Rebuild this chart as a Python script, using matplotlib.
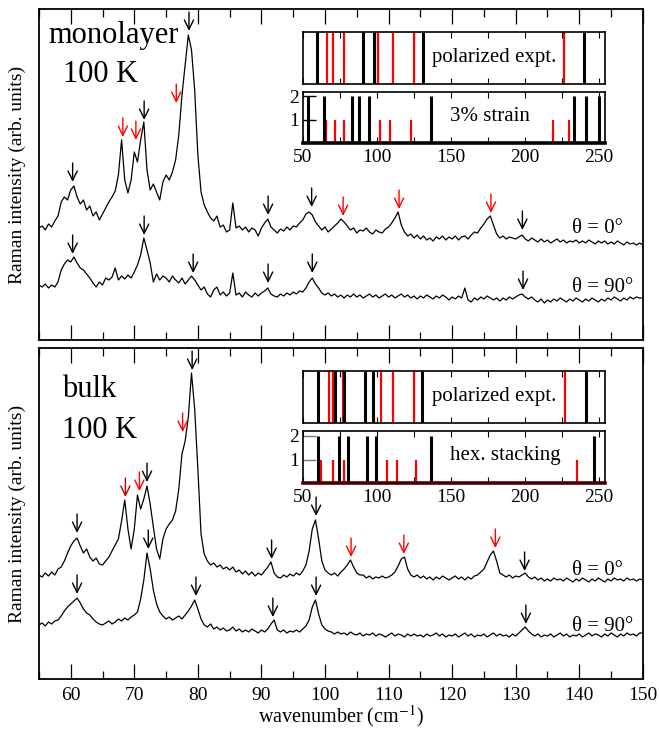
import matplotlib
matplotlib.use("Agg")
import matplotlib.pyplot as plt
from matplotlib.ticker import MultipleLocator

plt.rcParams['font.family'] = ['Liberation Serif', 'DejaVu Serif']
plt.rcParams['mathtext.fontset'] = 'stix'

# wavenumber grid of the spectra (cm^-1)
wavenumber = [
    55.0, 55.5, 56.0, 56.5, 57.0, 57.5, 58.0, 58.5, 59.0, 59.5, 60.0, 60.5, 61.0, 61.5, 62.0, 62.5,
    63.0, 63.5, 64.0, 64.5, 65.0, 65.5, 66.0, 66.5, 67.0, 67.5, 68.0, 68.5, 69.0, 69.5, 70.0, 70.5,
    71.0, 71.5, 72.0, 72.5, 73.0, 73.5, 74.0, 74.5, 75.0, 75.5, 76.0, 76.5, 77.0, 77.5, 78.0, 78.5,
    79.0, 79.5, 80.0, 80.5, 81.0, 81.5, 82.0, 82.5, 83.0, 83.5, 84.0, 84.5, 85.0, 85.5, 86.0, 86.5,
    87.0, 87.5, 88.0, 88.5, 89.0, 89.5, 90.0, 90.5, 91.0, 91.5, 92.0, 92.5, 93.0, 93.5, 94.0, 94.5,
    95.0, 95.5, 96.0, 96.5, 97.0, 97.5, 98.0, 98.5, 99.0, 99.5, 100.0, 100.5, 101.0, 101.5, 102.0, 102.5,
    103.0, 103.5, 104.0, 104.5, 105.0, 105.5, 106.0, 106.5, 107.0, 107.5, 108.0, 108.5, 109.0, 109.5, 110.0, 110.5,
    111.0, 111.5, 112.0, 112.5, 113.0, 113.5, 114.0, 114.5, 115.0, 115.5, 116.0, 116.5, 117.0, 117.5, 118.0, 118.5,
    119.0, 119.5, 120.0, 120.5, 121.0, 121.5, 122.0, 122.5, 123.0, 123.5, 124.0, 124.5, 125.0, 125.5, 126.0, 126.5,
    127.0, 127.5, 128.0, 128.5, 129.0, 129.5, 130.0, 130.5, 131.0, 131.5, 132.0, 132.5, 133.0, 133.5, 134.0, 134.5,
    135.0, 135.5, 136.0, 136.5, 137.0, 137.5, 138.0, 138.5, 139.0, 139.5, 140.0, 140.5, 141.0, 141.5, 142.0, 142.5,
    143.0, 143.5, 144.0, 144.5, 145.0, 145.5, 146.0, 146.5, 147.0, 147.5, 148.0, 148.5, 149.0, 149.5, 150.0,
]

# monolayer, 100 K (arb. units, offset traces)
mono_0 = [
    112, 114, 110, 116, 113, 119, 124, 138, 143, 140, 150, 154, 143, 136, 140, 130,
    134, 124, 128, 120, 126, 132, 138, 143, 149, 165, 200, 160, 147, 160, 188, 178,
    200, 218, 170, 150, 156, 148, 140, 158, 165, 160, 168, 180, 205, 245, 275, 305,
    290, 250, 185, 148, 135, 128, 122, 119, 124, 113, 115, 108, 110, 137, 112, 114,
    110, 113, 108, 112, 110, 104, 112, 117, 121, 113, 110, 107, 111, 109, 113, 110,
    114, 113, 117, 120, 126, 128, 125, 118, 114, 110, 113, 108, 111, 114, 117, 121,
    118, 114, 110, 112, 107, 110, 109, 112, 108, 106, 110, 108, 107, 111, 113, 117,
    122, 128, 115, 108, 104, 106, 102, 105, 101, 104, 100, 102, 99, 103, 101, 104,
    100, 103, 101, 104, 100, 103, 104, 101, 105, 108, 107, 112, 116, 121, 124, 115,
    106, 102, 104, 101, 103, 102, 101, 103, 105, 101, 99, 102, 100, 98, 101, 98,
    100, 97, 99, 101, 98, 100, 97, 99, 98, 100, 97, 99, 97, 100, 98, 96,
    99, 97, 99, 96, 98, 96, 99, 97, 95, 98, 96, 97, 95, 97, 95,
]
mono_90 = [
    55, 53, 56, 52, 55, 53, 58, 70, 76, 80, 78, 83, 77, 72, 70, 66,
    62, 57, 53, 58, 55, 62, 60, 63, 72, 60, 64, 61, 65, 62, 68, 75,
    85, 102, 90, 77, 58, 66, 60, 64, 62, 58, 64, 60, 57, 62, 56, 60,
    64, 60, 55, 50, 53, 46, 43, 50, 53, 45, 48, 44, 47, 67, 45, 47,
    43, 48, 45, 43, 47, 44, 47, 49, 52, 46, 44, 43, 46, 44, 47, 45,
    48, 46, 49, 48, 52, 58, 62, 56, 52, 47, 45, 47, 44, 46, 43, 45,
    42, 45, 43, 46, 43, 45, 42, 44, 46, 43, 45, 42, 44, 46, 43, 45,
    42, 44, 46, 43, 45, 42, 44, 41, 44, 42, 45, 43, 41, 44, 42, 45,
    43, 40, 43, 41, 44, 42, 52, 40, 38, 42, 40, 43, 41, 44, 42, 40,
    42, 39, 42, 40, 43, 41, 43, 45, 46, 43, 41, 43, 40, 38, 41, 37,
    40, 38, 41, 39, 42, 40, 38, 41, 39, 42, 40, 38, 41, 39, 42, 40,
    38, 41, 39, 42, 40, 43, 41, 39, 42, 40, 43, 41, 43, 42, 42,
]

# bulk, 100 K
bulk_0 = [
    104, 102, 106, 103, 107, 104, 110, 112, 118, 126, 133, 138, 141, 133, 126, 130,
    122, 118, 121, 115, 114, 118, 122, 128, 134, 140, 158, 179, 150, 130, 150, 184,
    170, 180, 193, 175, 152, 130, 120, 140, 150, 155, 159, 168, 190, 225, 238, 262,
    306, 270, 210, 145, 125, 118, 114, 116, 112, 114, 110, 112, 109, 112, 107, 109,
    105, 108, 104, 107, 103, 106, 104, 108, 112, 117, 106, 102, 101, 104, 102, 105,
    103, 106, 104, 108, 114, 128, 150, 159, 140, 118, 109, 106, 104, 106, 103, 107,
    110, 114, 119, 112, 106, 104, 104, 101, 103, 100, 102, 101, 103, 101, 102, 104,
    107, 113, 120, 122, 110, 104, 102, 104, 101, 103, 100, 102, 99, 102, 100, 103,
    101, 99, 101, 103, 100, 102, 99, 102, 100, 103, 104, 107, 110, 117, 124, 128,
    118, 106, 104, 102, 104, 101, 103, 102, 104, 106, 102, 100, 102, 99, 101, 98,
    100, 98, 101, 99, 100, 98, 101, 99, 97, 100, 98, 101, 99, 97, 100, 98,
    101, 99, 97, 100, 98, 101, 99, 100, 98, 101, 99, 100, 98, 100, 99,
]
bulk_90 = [
    54, 56, 53, 57, 55, 58, 59, 63, 68, 72, 75, 78, 81, 76, 70, 66,
    64, 60, 57, 55, 54, 56, 58, 55, 57, 60, 58, 61, 59, 62, 64, 67,
    80, 99, 126, 110, 89, 75, 67, 63, 60, 62, 59, 61, 63, 60, 64, 68,
    73, 79, 70, 60, 54, 52, 55, 50, 52, 49, 51, 48, 49, 52, 48, 50,
    47, 49, 47, 50, 48, 46, 49, 47, 50, 55, 59, 49, 47, 49, 46, 48,
    47, 49, 47, 50, 53, 59, 72, 79, 65, 54, 50, 48, 47, 45, 47, 45,
    46, 44, 47, 45, 44, 46, 43, 45, 44, 46, 43, 45, 44, 42, 44, 46,
    43, 45, 44, 42, 45, 43, 45, 43, 44, 42, 45, 43, 44, 46, 43, 45,
    42, 44, 43, 45, 42, 44, 46, 43, 45, 42, 44, 43, 45, 42, 44, 46,
    43, 45, 43, 44, 42, 45, 43, 46, 49, 52, 48, 45, 43, 45, 42, 44,
    43, 45, 42, 44, 46, 43, 45, 42, 44, 43, 45, 42, 44, 46, 43, 45,
    44, 42, 45, 43, 46, 44, 42, 45, 43, 46, 44, 45, 43, 46, 46,
]

# peak markers: position, arrow tip, colour
mono_arrow_x = [60.3, 68.2, 70.25, 71.55, 76.6, 78.6, 91.05, 97.9, 102.85, 111.65, 126.1, 131.05,
                60.3, 71.55, 79.26, 91.05, 98.0, 131.15]
mono_arrow_tip = [158, 203, 200, 220, 237, 309, 125, 133, 124, 131, 127, 110,
                  86, 105, 67, 57, 67, 50]
mono_arrow_col = ['k', 'r', 'r', 'k', 'r', 'k', 'k', 'k', 'r', 'r', 'r', 'k',
                  'k', 'k', 'k', 'k', 'k', 'k']

bulk_arrow_x = [61.0, 68.6, 70.8, 72.0, 77.6, 79.1, 91.6, 98.6, 104.1, 112.4, 126.8, 131.4,
                61.0, 72.2, 79.7, 91.8, 98.6, 131.6]
bulk_arrow_tip = [146, 182, 188, 197, 247, 309, 120, 163, 122, 125, 131, 108,
                  85, 130, 83, 62, 83, 55]
bulk_arrow_col = ['k', '#c00000', 'r', 'k', 'r', 'k', 'k', 'k', 'r', 'r', 'r', 'k',
                  'k', 'k', 'k', 'k', 'k', 'k']

# inset mode positions (cm^-1)
mono_pol_black = [59.2, 90.3, 98.2, 130.9, 240.1]
mono_pol_red = [66.0, 70.5, 77.9, 100.9, 111.0, 125.2, 226.0]
mono_calc_black = [53.6, 64.4, 82.9, 88.1, 94.6, 136.5, 233.4, 241.1, 250.0]
mono_calc_red = [65.5, 71.6, 77.7, 102.0, 108.8, 122.7, 219.2, 230.0]
bulk_pol_black = [60.3, 71.9, 78.0, 91.9, 97.3, 130.4, 241.2]
bulk_pol_red = [67.8, 70.5, 77.0, 102.7, 111.0, 125.2, 227.0]
bulk_calc_black = [60.4, 74.5, 80.6, 93.5, 99.3, 136.8, 246.8]
bulk_calc_red = [62.0, 70.5, 77.9, 106.7, 113.2, 126.7, 234.9]

fig = plt.figure(figsize=(6.6, 7.35), dpi=100)

W = 0.915
ax1 = fig.add_axes([0.059, 0.5374, W, 0.4504])
ax2 = fig.add_axes([0.059, 0.0762, W, 0.4503])


def style_main(ax, labels):
    ax.set_xlim(55, 150)
    ax.set_ylim(0, 331)
    ax.xaxis.set_major_locator(MultipleLocator(10))
    ax.xaxis.set_minor_locator(MultipleLocator(5))
    ax.tick_params(axis='x', which='both', direction='in', top=True, bottom=True,
                   labelbottom=labels, labelsize=14, width=0.9, pad=6)
    ax.tick_params(axis='x', which='major', length=11)
    ax.tick_params(axis='x', which='minor', length=6)
    ax.set_yticks([])
    for s in ax.spines.values():
        s.set_linewidth(1.3)


def draw_arrows(ax, xs, tips, cols):
    for x, t, c in zip(xs, tips, cols):
        ax.annotate('', xy=(x, t), xytext=(x, t + 19),
                    arrowprops=dict(arrowstyle='->,head_length=0.45,head_width=0.22',
                                    color=c, lw=1.0, shrinkA=0, shrinkB=0,
                                    mutation_scale=15))


for ax, y0, y90, ax_, at, ac in [(ax1, mono_0, mono_90, mono_arrow_x, mono_arrow_tip, mono_arrow_col),
                                 (ax2, bulk_0, bulk_90, bulk_arrow_x, bulk_arrow_tip, bulk_arrow_col)]:
    ax.plot(wavenumber, y0, color='k', lw=0.9)
    ax.plot(wavenumber, y90, color='k', lw=0.9)
    draw_arrows(ax, ax_, at, ac)

style_main(ax1, False)
style_main(ax2, True)
ax2.set_xlabel('wavenumber (cm$^{-1}$)', fontsize=14.5, labelpad=-1)

ax1.text(0.015, 0.897, 'monolayer', transform=ax1.transAxes, fontsize=22)
ax1.text(0.040, 0.779, '100 K', transform=ax1.transAxes, fontsize=22)
ax2.text(0.038, 0.852, 'bulk', transform=ax2.transAxes, fontsize=22)
ax2.text(0.038, 0.728, '100 K', transform=ax2.transAxes, fontsize=22)

ax1.text(138.8, 111, 'θ = 0°', fontsize=15, va='center')
ax1.text(138.8, 53, 'θ = 90°', fontsize=15, va='center')
ax2.text(138.8, 109, 'θ = 0°', fontsize=15, va='center')
ax2.text(138.8, 52, 'θ = 90°', fontsize=15, va='center')

fig.text(0.027, 0.7626, 'Raman intensity (arb. units)', rotation=90,
         ha='center', va='center', fontsize=14)
fig.text(0.027, 0.3014, 'Raman intensity (arb. units)', rotation=90,
         ha='center', va='center', fontsize=14)


def inset_pol(rect, black, red):
    ax = fig.add_axes(rect)
    ax.set_xlim(50, 254)
    ax.set_ylim(0, 1)
    ax.vlines(red, 0, 1, color='#ff0000', lw=1.6)
    ax.vlines(black, 0, 1, color='k', lw=2.2)
    ax.xaxis.set_major_locator(MultipleLocator(25))
    ax.tick_params(axis='x', direction='in', top=True, bottom=True, length=4,
                   width=0.8, labelbottom=False)
    ax.set_yticks([])
    for s in ax.spines.values():
        s.set_linewidth(1.2)
    ax.text(0.632, 0.5, 'polarized expt.', transform=ax.transAxes, ha='center',
            va='center', fontsize=15, bbox=dict(fc='white', ec='none', pad=1))
    return ax


def inset_calc(rect, black, red, label, lx, ly, tick_col, base_col):
    ax = fig.add_axes(rect)
    ax.set_xlim(50, 254)
    ax.set_ylim(0, 2.2)
    ax.vlines(red, 0, 1, color='#ff0000', lw=1.6)
    ax.vlines(black, 0, 2, color='k', lw=2.2)
    ax.xaxis.set_major_locator(MultipleLocator(50))
    ax.xaxis.set_minor_locator(MultipleLocator(25))
    ax.tick_params(axis='x', which='both', direction='in', top=True, bottom=True,
                   length=4, width=0.8, labelsize=14, pad=4)
    ax.set_yticks([1, 2])
    ax.tick_params(axis='y', direction='in', length=9, width=1.0, color=tick_col,
                   labelsize=14, pad=3)
    for s in ax.spines.values():
        s.set_linewidth(1.2)
    ax.spines['bottom'].set_linewidth(2.6)
    ax.spines['bottom'].set_color(base_col)
    ax.text(lx, ly, label, transform=ax.transAxes, ha='center', va='center',
            fontsize=15, bbox=dict(fc='white', ec='none', pad=1))
    return ax


inset_pol([0.459, 0.8853, 0.4576, 0.0716], mono_pol_black, mono_pol_red)
inset_calc([0.459, 0.805, 0.4576, 0.0702], mono_calc_black, mono_calc_red,
           '3% strain', 0.619, 0.515, 'k', 'k')
inset_pol([0.459, 0.4249, 0.4576, 0.0707], bulk_pol_black, bulk_pol_red)
inset_calc([0.459, 0.3424, 0.4576, 0.0712], bulk_calc_black, bulk_calc_red,
           'hex. stacking', 0.669, 0.54, '#777777', '#4a0000')

fig.savefig('out.png', dpi=100)
